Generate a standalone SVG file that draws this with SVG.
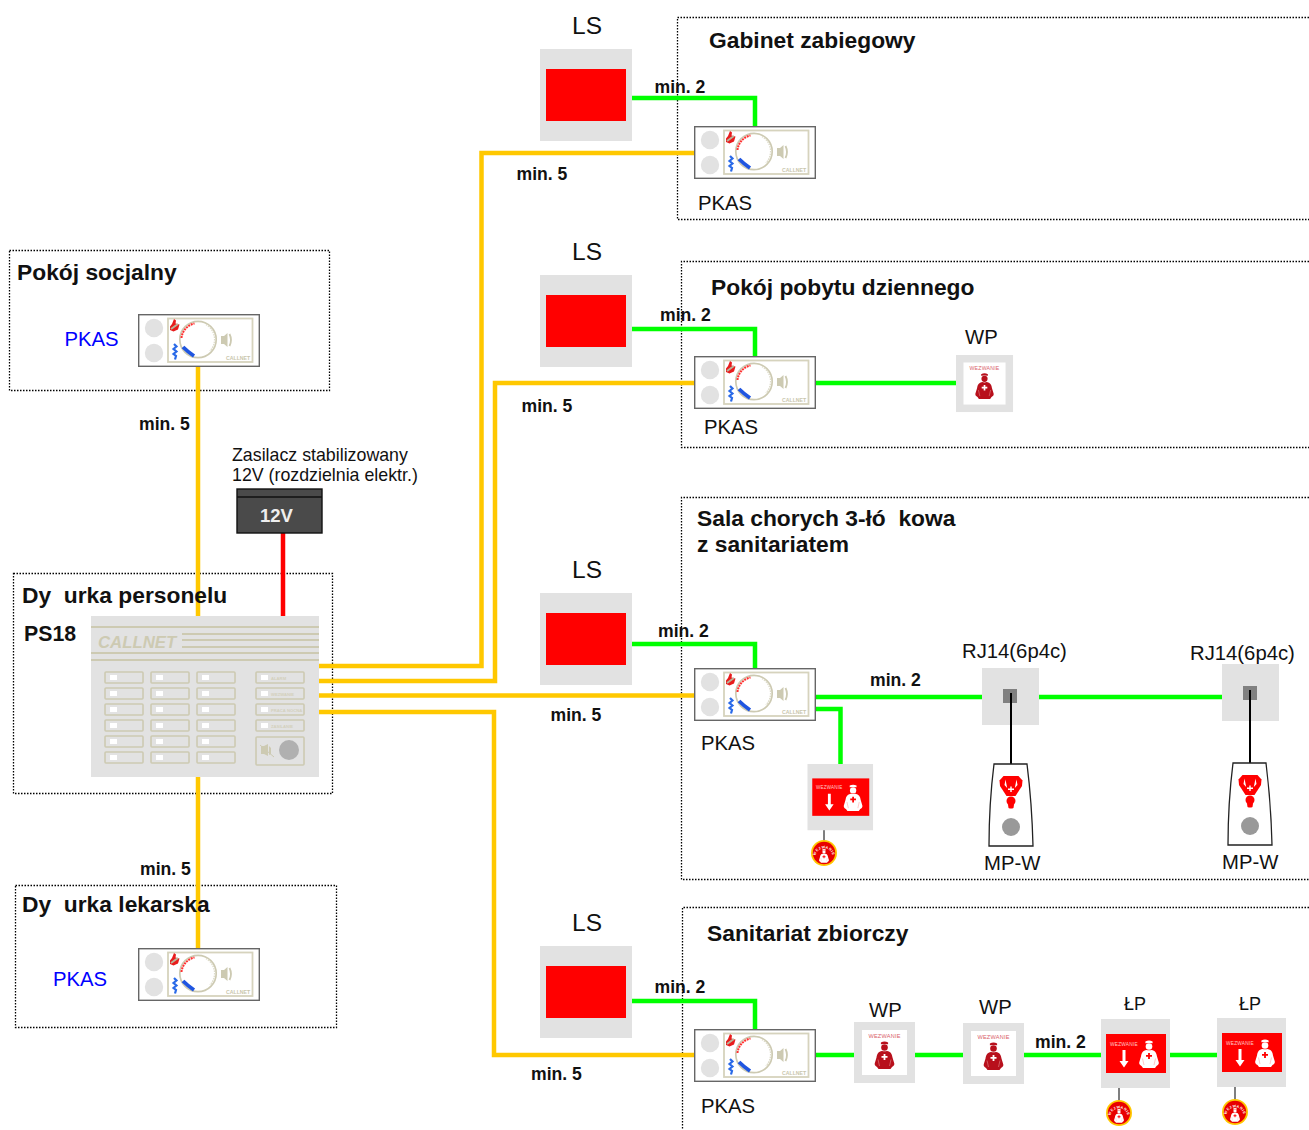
<svg xmlns="http://www.w3.org/2000/svg" width="1309" height="1130" viewBox="0 0 1309 1130">
<style>
text{font-family:"Liberation Sans",Arial,sans-serif;fill:#111;white-space:pre}
.b{font-weight:bold}
.t{font-size:22.8px;font-weight:bold}
.m{font-size:17.6px;font-weight:bold}
.l{font-size:20.3px}
.ls{font-size:24.5px}
.blue{fill:#0000ff}
.frame{fill:none;stroke:#000;stroke-width:1.3;stroke-dasharray:1.5 1.5}
.y{fill:none;stroke:#ffc800;stroke-width:4.5}
.g{fill:none;stroke:#00ff00;stroke-width:4.5}
.gray{fill:#e2e2e2}
.red{fill:#ff0000}
.btn{fill:none;stroke:#cdcab2;stroke-width:1.6}
.led{fill:#fff}
.tan{fill:#cdcab2}
.pl{stroke:#cdcab2;stroke-width:2}
.tiny{font-size:4.2px;font-weight:bold;fill:#d3d0bc}
.wz{font-size:5.6px;fill:#d9626b;letter-spacing:.2px}
.wzw{font-size:4.8px;fill:#ffc9c9;letter-spacing:.2px}
.ring{font-size:3.6px;font-weight:bold;fill:#fff;letter-spacing:.5px}
</style>
<defs>
<g id="nb"><path d="M-3.600-11.200V-13Q0-14.800 3.600-13V-11.200Q0-12-3.600-11.200Z"/><circle cy="-8" r="3.300"/><path d="M-2.500-4.600Q0-3.800 2.500-4.600C6-4 7.500-2 8 2L9.800 8C10 9.800 9 10.500 7.500 11.500L6 13.500H-6L-7.500 11.500C-9 10.500-10 9.800-9.800 8L-8 2C-7.500-2-6-4-2.500-4.600Z"/></g>
<path id="nc" d="M-.9-1.500H.9V.5H3V2.300H.9V4.500H-.9V2.300H-3V.5H-.9Z"/>
<g id="nurseD"><use href="#nb" fill="#b8101c"/><use href="#nc" fill="#fff"/><path d="M-6.500 4-5 10.500M6.500 4 5 10.500" stroke="#e8a0a0" stroke-width=".5"/></g>
<g id="nurseW"><use href="#nb" fill="#fff"/><use href="#nc" fill="#ff0000"/><path d="M-6.500 4-5 10.500M6.500 4 5 10.500" stroke="#ff9090" stroke-width=".5"/></g>
<path id="arcTop" d="M-8.400 2A8.600 8.600 0 0 1 8.400 2"/>
<g id="pkas">
<rect x=".7" y=".7" width="120.600" height="51.600" fill="#fff" stroke="#666" stroke-width="1.400"/>
<circle cx="16" cy="14" r="9.200" fill="#e2e2e2"/>
<circle cx="16" cy="39" r="9.200" fill="#e2e2e2"/>
<rect x="30" y="4.500" width="84.500" height="43.500" fill="#fff" stroke="#d6d3bd" stroke-width="1.800"/>
<circle cx="60" cy="25.500" r="18.200" fill="#fff" stroke="#cdcab2" stroke-width="1.700"/>
<path d="M43.500 24A16.500 16.500 0 0 1 56.500 9.500" fill="none" stroke="#ff3030" stroke-width="2" stroke-dasharray="2 .8"/>
<path d="M68 10.500A17 17 0 0 1 72 37" fill="none" stroke="#dedccb" stroke-width="1.500" stroke-dasharray="1.500 1"/>
<path d="M45 33Q50 38 56 42" fill="none" stroke="#1f55e0" stroke-width="3.800"/>
<path d="M36 5l2 1.500-.5 3 4 1-1.500 5-4.500 2-3.500-1.500 0-3.500 2-2.500z" fill="#e81c1c"/>
<path d="M33 15l7-5" stroke="#b9b49a" stroke-width="2"/>
<path d="M36 30l2.500 2.500-3 2.500 3 2.500-3 2.500 2.500 2-1 3.500" fill="none" stroke="#2a6ae8" stroke-width="2.200"/>
<path d="M83 22h3l3.500-3v14l-3.500-3h-3z" fill="#cdcab2"/>
<path d="M91.500 20q3 6 0 12" fill="none" stroke="#cdcab2" stroke-width="1.800"/>
<text x="88" y="45.500" style="font-size:5.200px;font-weight:bold;fill:#c9c6ad">CALLNET</text>
</g>
<g id="ls"><rect class="gray" width="92" height="92"/><rect class="red" x="6" y="20" width="80" height="52"/></g>
<g id="wp"><rect class="gray" width="61" height="61"/><rect x="8" y="8" width="45" height="45" fill="#fff"/><text class="wz" x="30.500" y="16" text-anchor="middle">WEZWANIE</text><use href="#nurseD" x="30.500" y="33.500"/></g>
<g id="lp"><rect class="gray" width="69" height="69"/><rect class="red" x="5" y="15" width="60" height="39"/><text class="wzw" x="9" y="26.500">WEZWANIE</text><path d="M21.500 31h3v11h3l-4.500 6.500-4.500-6.500h3z" fill="#fff"/><use href="#nurseW" x="48" y="35.500"/></g>
<g id="badge"><circle r="13" fill="#ffc800"/><circle r="11.200" fill="#e80000"/><use href="#nurseW" transform="translate(0 3) scale(.5)"/><text class="ring"><textPath href="#arcTop" startOffset="50%" text-anchor="middle">WEZWANIE</textPath></text></g>
<g id="mpw"><path d="M-17 0H16Q21 40 22 82H-22Q-22 40-17 0z" fill="#fff" stroke="#222" stroke-width="1.300"/><path d="M-7.500 12H7.500L11.500 16.500 11 22 4.500 32H-4.500L-11 22-11.500 16.500Z" fill="#ff0000"/><path d="M-5.500 15.500-3.800 24-6.500 21ZM5.500 15.500 3.800 24 6.500 21Z" fill="#fff"/><path d="M-.7 22.500h1.400v2H3v1.400H.7v2H-.7v-2H-3v-1.400H-.7z" fill="#fff"/><circle cy="37" r="4.500" fill="#ff0000"/><path d="M-3 40.500H3L2.500 44Q0 45-2.500 44Z" fill="#ff0000"/><circle cy="63" r="9" fill="#999"/></g>
</defs>
<rect width="1309" height="1130" fill="#fff"/>

<g id="frames">
<path class="frame" d="M1309 17.500H677.500V219.500H1309"/>
<path class="frame" d="M1309 261.500H681.500V447.500H1309"/>
<path class="frame" d="M1309 497.500H681.500V879.500H1309"/>
<path class="frame" d="M1309 907.500H682.500V1130"/>
<rect class="frame" x="9.500" y="250.500" width="320" height="140"/>
<rect class="frame" x="13.500" y="573.500" width="319" height="220"/>
<rect class="frame" x="15.500" y="885.500" width="321" height="142"/>
</g>

<g id="connectors">
<path class="y" d="M198 366V616M198 777V948"/>
<path class="y" d="M319 666H481.500V153H694"/>
<path class="y" d="M319 681H495V383H694"/>
<path class="y" d="M319 695.500H694"/>
<path class="y" d="M319 712H494V1055H694"/>
<path d="M283 533V616" fill="none" stroke="#ff0000" stroke-width="4.500"/>
<path class="g" d="M632 98H755V126"/>
<path class="g" d="M632 329H755V356"/>
<path class="g" d="M815 383H957"/>
<path class="g" d="M632 644H755V668"/>
<path class="g" d="M815 697H982M1039 697H1222"/>
<path class="g" d="M815 709H840.500V764"/>
<path class="g" d="M632 1001H755V1029"/>
<path class="g" d="M815 1055H854M915 1055H963M1024 1055H1101M1170 1055H1217"/>
<path d="M824 830V841M1119 1088V1101M1235 1087V1100" stroke="#555" stroke-width="1.500" fill="none"/>
</g>

<g id="pokoj-socjalny"><text class="t" x="17" y="280">Pokój socjalny</text><text class="l blue" x="64.500" y="346">PKAS</text><use href="#pkas" x="138" y="314"/></g>
<g id="dyzurka-lekarska"><text class="t" x="22" y="912">Dy  urka lekarska</text><text class="l blue" x="53" y="986">PKAS</text><use href="#pkas" x="138" y="948"/></g>

<g id="zasilacz">
<text style="font-size:17.800px" x="232" y="461">Zasilacz stabilizowany</text>
<text style="font-size:17.800px" x="232" y="481">12V (rozdzielnia elektr.)</text>
<rect x="237" y="489" width="85" height="44" fill="#4a4a4a" stroke="#111" stroke-width="1.400"/>
<path d="M237 497H322" stroke="#111" stroke-width="1.400"/>
<text class="b" x="260" y="522" style="font-size:18.500px;fill:#eee">12V</text>
</g>

<g id="dyzurka-personelu">
<text class="t" x="22" y="603">Dy  urka personelu</text>
<text class="b" x="24" y="641" style="font-size:21.300px">PS18</text>
<rect class="gray" x="91" y="616" width="228" height="161"/>
<path class="pl" d="M91 627H319M91 653H319M91 660H319M182 634H319M182 640H319M182 647H319"/>
<text x="98" y="648" style="font-size:16.800px;font-weight:bold;font-style:italic;fill:#cdcab2">CALLNET</text>
<g id="panel-buttons">
<rect class="btn" x="105" y="672" width="38" height="11" rx="1"/><rect class="btn" x="151" y="672" width="38" height="11" rx="1"/><rect class="btn" x="197" y="672" width="38" height="11" rx="1"/>
<rect class="btn" x="105" y="688" width="38" height="11" rx="1"/><rect class="btn" x="151" y="688" width="38" height="11" rx="1"/><rect class="btn" x="197" y="688" width="38" height="11" rx="1"/>
<rect class="btn" x="105" y="704" width="38" height="11" rx="1"/><rect class="btn" x="151" y="704" width="38" height="11" rx="1"/><rect class="btn" x="197" y="704" width="38" height="11" rx="1"/>
<rect class="btn" x="105" y="720" width="38" height="11" rx="1"/><rect class="btn" x="151" y="720" width="38" height="11" rx="1"/><rect class="btn" x="197" y="720" width="38" height="11" rx="1"/>
<rect class="btn" x="105" y="736" width="38" height="11" rx="1"/><rect class="btn" x="151" y="736" width="38" height="11" rx="1"/><rect class="btn" x="197" y="736" width="38" height="11" rx="1"/>
<rect class="btn" x="105" y="752" width="38" height="11" rx="1"/><rect class="btn" x="151" y="752" width="38" height="11" rx="1"/><rect class="btn" x="197" y="752" width="38" height="11" rx="1"/>
<rect class="led" x="110" y="675" width="7" height="5"/><rect class="led" x="156" y="675" width="7" height="5"/><rect class="led" x="202" y="675" width="7" height="5"/>
<rect class="led" x="110" y="691" width="7" height="5"/><rect class="led" x="156" y="691" width="7" height="5"/><rect class="led" x="202" y="691" width="7" height="5"/>
<rect class="led" x="110" y="707" width="7" height="5"/><rect class="led" x="156" y="707" width="7" height="5"/><rect class="led" x="202" y="707" width="7" height="5"/>
<rect class="led" x="110" y="723" width="7" height="5"/><rect class="led" x="156" y="723" width="7" height="5"/><rect class="led" x="202" y="723" width="7" height="5"/>
<rect class="led" x="110" y="739" width="7" height="5"/><rect class="led" x="156" y="739" width="7" height="5"/><rect class="led" x="202" y="739" width="7" height="5"/>
<rect class="led" x="110" y="755" width="7" height="5"/><rect class="led" x="156" y="755" width="7" height="5"/><rect class="led" x="202" y="755" width="7" height="5"/>
<rect class="btn" x="256" y="672" width="48" height="11" rx="1"/><rect class="btn" x="256" y="688" width="48" height="11" rx="1"/><rect class="btn" x="256" y="704" width="48" height="11" rx="1"/><rect class="btn" x="256" y="720" width="48" height="11" rx="1"/>
<rect class="btn" x="256" y="737" width="48" height="28" rx="1"/>
<rect class="led" x="261" y="675" width="7" height="5"/><rect class="led" x="261" y="691" width="7" height="5"/><rect class="led" x="261" y="707" width="7" height="5"/><rect class="led" x="261" y="723" width="7" height="5"/>
<text class="tiny" x="271" y="680">ALARM</text><text class="tiny" x="271" y="696">WEZWANIE</text><text class="tiny" x="271" y="712">PRACA NOCNA</text><text class="tiny" x="271" y="728">ZASILANIE</text>
<path d="M261 746h3l4-2v12l-4-2h-3zM269 746l2 2v6l-2 1z" class="tan"/><path d="M260 745l14 12" stroke="#cdcab2" stroke-width="1"/>
<circle cx="289" cy="750" r="10" fill="#b0b0b0"/>
</g>
</g>

<g id="gabinet-zabiegowy"><text class="t" x="709" y="48">Gabinet zabiegowy</text><text class="ls" x="572" y="34">LS</text><use href="#ls" x="540" y="49"/><use href="#pkas" x="694" y="126"/><text class="l" x="698" y="210">PKAS</text></g>

<g id="pokoj-pobytu"><text class="t" x="711" y="295">Pokój pobytu dziennego</text><text class="ls" x="572" y="260">LS</text><use href="#ls" x="540" y="275"/><use href="#pkas" x="694" y="356"/><text class="l" x="704" y="434">PKAS</text><text class="l" x="965" y="344">WP</text><g transform="translate(956 355) scale(.935)"><use href="#wp"/></g></g>

<g id="sala-chorych"><text class="t" x="697" y="526">Sala chorych 3-łó  kowa</text><text class="t" x="697" y="552">z sanitariatem</text><text class="ls" x="572" y="578">LS</text><use href="#ls" x="540" y="593"/><use href="#pkas" x="694" y="668"/><text class="l" x="701" y="750">PKAS</text>
<g transform="translate(807.500 764) scale(.95 .96)"><use href="#lp"/></g><use href="#badge" x="824" y="853"/>
<text class="l" x="962" y="658">RJ14(6p4c)</text><rect class="gray" x="982" y="668" width="57" height="57"/><rect x="1003" y="689" width="14" height="14" fill="#808080"/><path d="M1011 693V764" stroke="#000" stroke-width="2"/><use href="#mpw" x="1011" y="764"/><text class="l" x="984" y="870">MP-W</text>
<text class="l" x="1190" y="660">RJ14(6p4c)</text><rect class="gray" x="1222" y="664" width="57" height="57"/><rect x="1243" y="686" width="14" height="14" fill="#808080"/><path d="M1250 690V763" stroke="#000" stroke-width="2"/><use href="#mpw" x="1250" y="763"/><text class="l" x="1222" y="869">MP-W</text></g>

<g id="sanitariat"><text class="t" x="707" y="941">Sanitariat zbiorczy</text><text class="ls" x="572" y="931">LS</text><use href="#ls" x="540" y="946"/><use href="#pkas" x="694" y="1029"/><text class="l" x="701" y="1113">PKAS</text>
<text class="l" x="869" y="1017">WP</text><use href="#wp" x="854" y="1022"/>
<text class="l" x="979" y="1014">WP</text><use href="#wp" x="963" y="1023"/>
<text x="1124" y="1010" style="font-size:18px">ŁP</text><use href="#lp" x="1101" y="1019"/><use href="#badge" x="1119" y="1113"/>
<text x="1239" y="1010" style="font-size:18px">ŁP</text><use href="#lp" x="1217" y="1018"/><use href="#badge" x="1235" y="1112"/></g>

<g id="labels">
<text class="m" x="139" y="430">min. 5</text>
<text class="m" x="140" y="875">min. 5</text>
<text class="m" x="516.500" y="180">min. 5</text>
<text class="m" x="521.500" y="412">min. 5</text>
<text class="m" x="550.500" y="721">min. 5</text>
<text class="m" x="531" y="1080">min. 5</text>
<text class="m" x="654.500" y="93">min. 2</text>
<text class="m" x="660" y="321">min. 2</text>
<text class="m" x="658" y="637">min. 2</text>
<text class="m" x="654.500" y="993">min. 2</text>
<text class="m" x="870" y="686">min. 2</text>
<text class="m" x="1035" y="1048">min. 2</text>
</g>
</svg>
